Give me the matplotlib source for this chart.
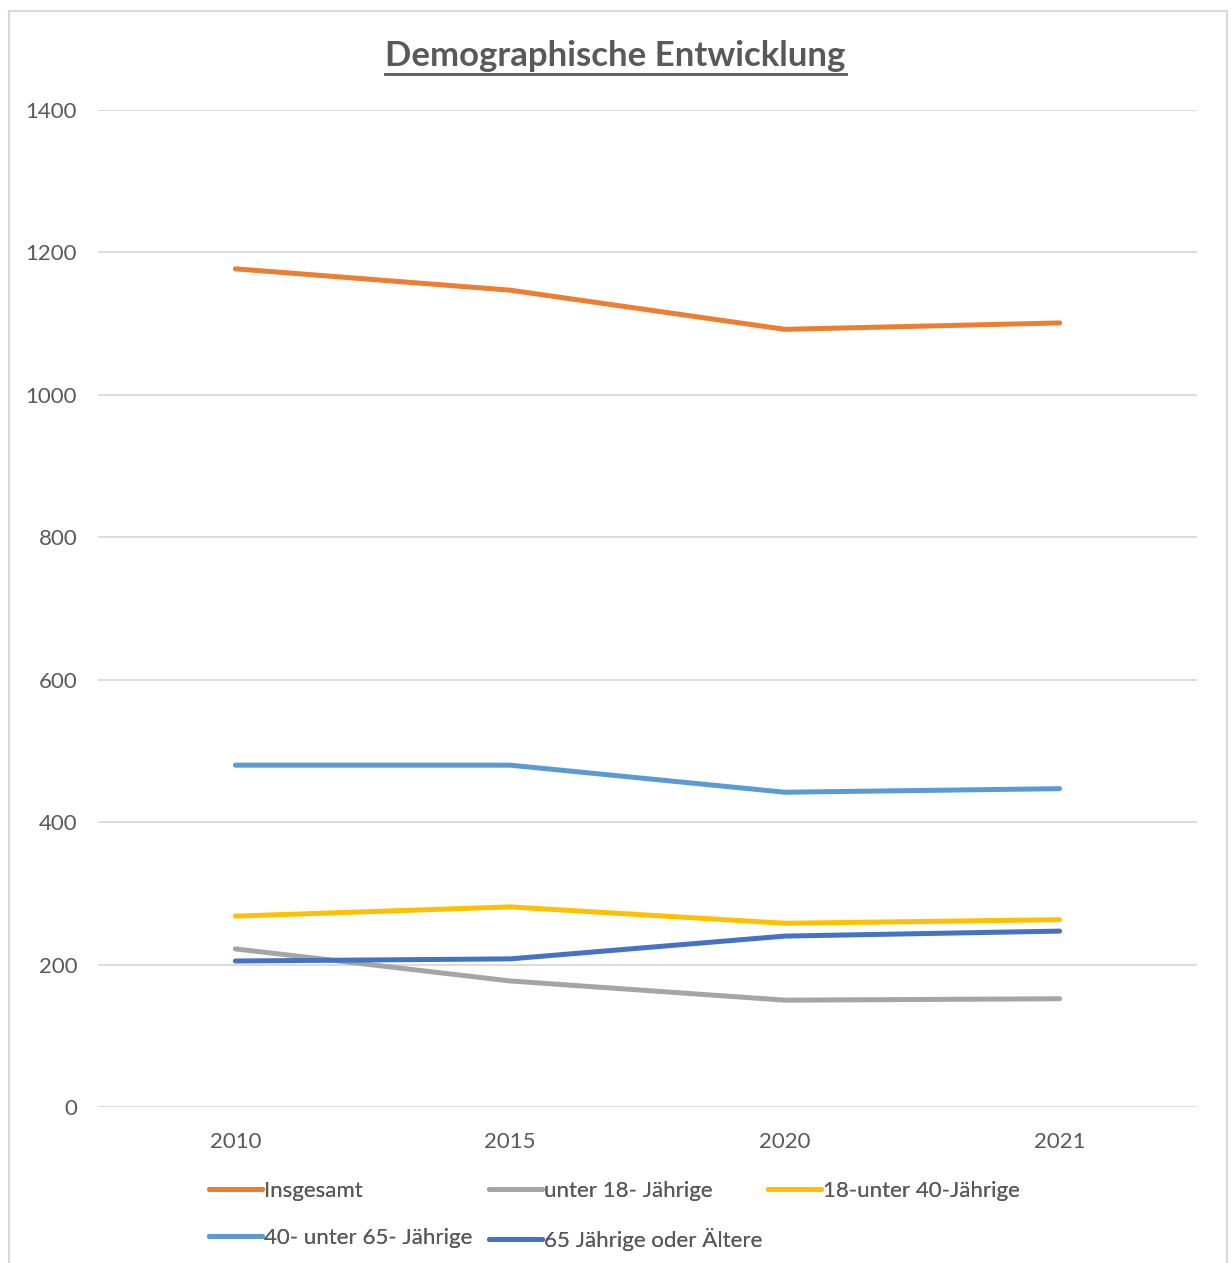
import matplotlib.pyplot as plt
from matplotlib.patches import Rectangle

# Daten
jahre = ['2010', '2015', '2020', '2021']
insgesamt = [1177, 1147, 1092, 1101]
unter_18 = [222, 177, 150, 152]
j18_40 = [268, 281, 258, 263]
j40_65 = [480, 480, 442, 447]
ab_65 = [205, 208, 240, 247]

reihen = ['Insgesamt', 'unter 18- Jährige', '18-unter 40-Jährige',
          '40- unter 65- Jährige', '65 Jährige oder Ältere']
farben = ['#ED7D31', '#A5A5A5', '#FFC000', '#5B9BD5', '#4472C4']

plt.rcParams['font.family'] = ['Lato', 'DejaVu Sans']
textfarbe = '#595959'

fig = plt.figure(figsize=(12.31, 12.63), dpi=100)
fig.patches.append(Rectangle((9 / 1231, -0.05), (1227 - 9) / 1231, 1.05 - 11 / 1263,
                             transform=fig.transFigure, fill=False,
                             edgecolor='#D9D9D9', linewidth=1.5))

ax = fig.add_axes([98 / 1231, 1 - 1107 / 1263, (1197 - 98) / 1231, (1107 - 110) / 1263])

x = range(len(jahre))
linien = []
for werte, name, farbe in zip([insgesamt, unter_18, j18_40, j40_65, ab_65], reihen, farben):
    l, = ax.plot(x, werte, color=farbe, linewidth=3.6, solid_capstyle='round', label=name)
    linien.append(l)

ax.set_xlim(-0.5, len(jahre) - 0.5)
ax.set_ylim(0, 1400)
ax.set_yticks(range(0, 1401, 200))
ax.set_xticks(list(x))
ax.set_xticklabels(jahre)
ax.grid(axis='y', color='#D9D9D9', linewidth=1.3)
ax.set_axisbelow(True)
for s in ax.spines.values():
    s.set_visible(False)
ax.tick_params(length=0, labelsize=16, colors=textfarbe)
ax.tick_params(axis='x', pad=18)
ax.tick_params(axis='y', pad=15)

titel = fig.text(0.5, 1 - 56 / 1263, 'Demographische Entwicklung', ha='center', va='center',
                 fontsize=25, fontweight='bold', color=textfarbe)

# Legende: drei Spalten, zeilenweise wie im Original
spalten = [[0, 3], [1, 4], [2]]
spalten_x = [200, 480, 759]
for idx, sx in zip(spalten, spalten_x):
    leg = fig.legend([linien[i] for i in idx], [reihen[i] for i in idx],
                     loc='upper left', bbox_to_anchor=(sx / 1231, 1 - 1172 / 1263),
                     frameon=False, fontsize=16, handlelength=2.4, handletextpad=0.1,
                     labelspacing=1.2, borderaxespad=0)
    for t in leg.get_texts():
        t.set_color(textfarbe)
    fig.add_artist(leg)

# Unterstreichung des Titels
fig.canvas.draw()
bb = titel.get_window_extent()
y_u = bb.y0 - 2
fig.add_artist(plt.Line2D([bb.x0 / 1231, bb.x1 / 1231], [y_u / 1263, y_u / 1263],
                          transform=fig.transFigure, color=textfarbe, linewidth=2))

fig.savefig('out.png', dpi=100)
